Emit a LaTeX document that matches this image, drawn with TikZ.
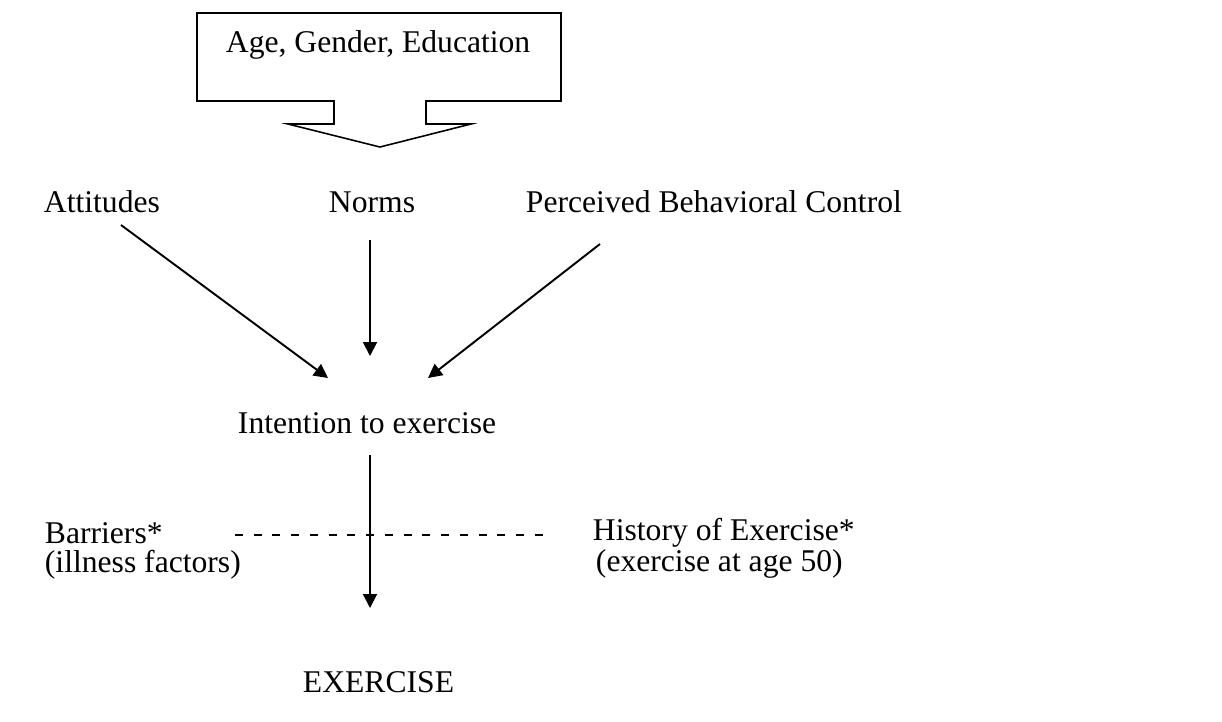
\documentclass[tikz,border=0pt]{standalone}
\usepackage{fontspec}
\setmainfont{Liberation Serif}
\usetikzlibrary{arrows.meta}

\begin{document}
\begin{tikzpicture}[x=0.02cm,y=-0.02cm,line width=1.1pt,
    every node/.style={inner sep=0pt,font=\fontsize{18}{16}\selectfont},
    lbl/.style={anchor=base west,align=left},
    arr/.style={-{Triangle[length=0.28cm,width=0.28cm]}}]
        \useasboundingbox (0,0) rectangle (1222,721);
        % callout box
        \coordinate (c1) at (197,13);
        \coordinate (c2) at (561,13);
        \coordinate (c3) at (561,101);
        \coordinate (c4) at (426,101);
        \coordinate (c5) at (426,124);
        \coordinate (c6) at (471,124);
        \coordinate (c7) at (380,147);
        \coordinate (c8) at (288,124);
        \coordinate (c9) at (334,124);
        \coordinate (c10) at (334,101);
        \coordinate (c11) at (197,101);
        \draw[line width=0.9pt] (c1) -- (c2) -- (c3) -- (c4) -- (c5) -- (c6) -- (c7) -- (c8) -- (c9) -- (c10) -- (c11) -- cycle;
        \node[lbl] (age) at (225,52) {Age, Gender, Education};
        % factors
        \node[lbl] (att) at (43,212) {Attitudes};
        \node[lbl] (norms) at (328,212) {Norms};
        \node[lbl] (pbc) at (525,212) {Perceived Behavioral Control};
        \node[lbl] (intent) at (237,433) {Intention to exercise};
        \node[lbl] (barr) at (44,572) {Barriers*\\(illness factors)};
        \node[lbl] (hist) at (592,571) {History of Exercise*\\\hspace*{0.06cm}(exercise at age 50)};
        \node[lbl] (exer) at (302,692) {EXERCISE};
        % arrows
        \coordinate (a1) at (121,225);
        \coordinate (a2) at (328,378);
        \coordinate (n1) at (370,240);
        \coordinate (n2) at (370,356);
        \coordinate (p1) at (600,244);
        \coordinate (p2) at (428,378);
        \coordinate (i1) at (370,455);
        \coordinate (i2) at (370,608);
        \coordinate (d1) at (235,535);
        \coordinate (d2) at (543,535);
        \draw[arr] (a1) -- (a2);
        \draw[arr] (n1) -- (n2);
        \draw[arr] (p1) -- (p2);
        \draw[arr] (i1) -- (i2);
        \draw[dash pattern=on 0.16cm off 0.215cm] (d1) -- (d2);
        \end{tikzpicture}
\end{document}
